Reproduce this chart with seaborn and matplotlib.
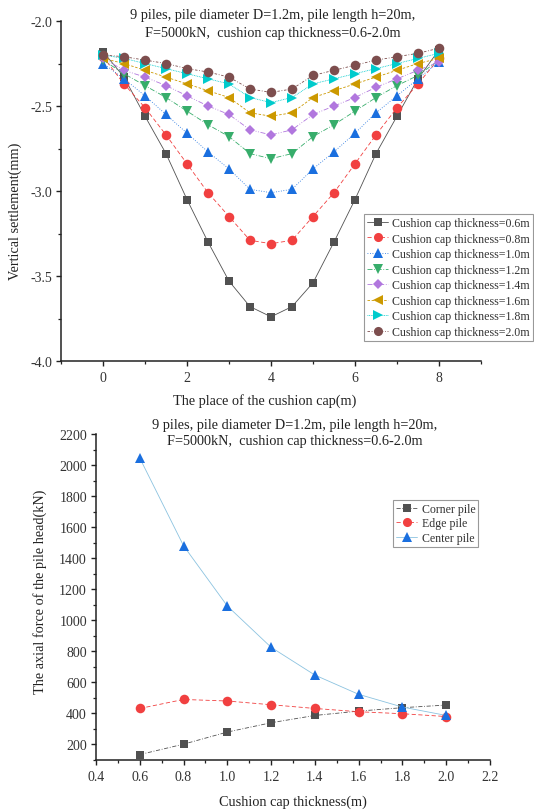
import numpy as np
import pandas as pd
import matplotlib
matplotlib.use("Agg")
import matplotlib.pyplot as plt
from matplotlib.ticker import MultipleLocator
import seaborn as sns

# ---- settlement profile along the cushion cap (mm) ----
positions = [0, 0.5, 1, 1.5, 2, 2.5, 3, 3.5, 4, 4.5, 5, 5.5, 6, 6.5, 7, 7.5, 8]
thickness_labels = ["0.6m", "0.8m", "1.0m", "1.2m", "1.4m", "1.6m", "1.8m", "2.0m"]
settle_06 = [-2.18, -2.33, -2.56, -2.78, -3.05, -3.30, -3.53, -3.68, -3.74, -3.68, -3.54, -3.30, -3.05, -2.78, -2.56, -2.34, -2.17]
settle_08 = [-2.21, -2.37, -2.51, -2.67, -2.84, -3.01, -3.15, -3.29, -3.31, -3.29, -3.15, -3.01, -2.84, -2.67, -2.51, -2.37, -2.22]
settle_10 = [-2.25, -2.34, -2.44, -2.55, -2.66, -2.77, -2.87, -2.99, -3.01, -2.99, -2.87, -2.77, -2.66, -2.54, -2.44, -2.34, -2.24]
settle_12 = [-2.23, -2.31, -2.38, -2.45, -2.53, -2.61, -2.68, -2.78, -2.81, -2.78, -2.68, -2.61, -2.53, -2.45, -2.38, -2.32, -2.23]
settle_14 = [-2.22, -2.29, -2.33, -2.38, -2.44, -2.50, -2.55, -2.64, -2.67, -2.64, -2.55, -2.50, -2.45, -2.39, -2.34, -2.29, -2.24]
settle_16 = [-2.22, -2.25, -2.29, -2.33, -2.37, -2.41, -2.45, -2.54, -2.56, -2.54, -2.45, -2.41, -2.37, -2.33, -2.29, -2.25, -2.22]
settle_18 = [-2.20, -2.22, -2.25, -2.28, -2.31, -2.34, -2.37, -2.45, -2.48, -2.45, -2.37, -2.34, -2.31, -2.28, -2.25, -2.22, -2.19]
settle_20 = [-2.20, -2.21, -2.23, -2.25, -2.28, -2.30, -2.33, -2.40, -2.42, -2.40, -2.32, -2.29, -2.26, -2.23, -2.21, -2.19, -2.16]
settlements = [settle_06, settle_08, settle_10, settle_12, settle_14, settle_16, settle_18, settle_20]

# ---- pile head axial force vs. cap thickness (kN) ----
cap_thickness = [0.6, 0.8, 1.0, 1.2, 1.4, 1.6, 1.8, 2.0]
corner_pile = [135, 202, 280, 340, 387, 415, 437, 454]
edge_pile = [432, 490, 480, 456, 432, 411, 398, 380]
center_pile = [2045, 1480, 1092, 826, 647, 523, 441, 387]

sns.set_style("ticks")
plt.rcParams["font.family"] = ["Liberation Serif", "DejaVu Serif"]
plt.rcParams["axes.unicode_minus"] = False
plt.rcParams["text.color"] = "#222222"

palette = ["#515151", "#F14040", "#1A6FDF", "#37AD6B", "#B177DE", "#CC9900", "#00CBCC", "#7D4E4E"]
markers = ["s", "o", "^", "v", "D", "<", ">", "o"]
msizes = [6.2, 6.9, 7.2, 7.2, 5.6, 7.2, 7.2, 6.9]
linestyles = ["-", (0, (5, 3)), (0, (1, 2)), (0, (6, 2, 1, 2)), (0, (6, 2, 1, 2, 1, 2)),
              (0, (3, 2)), (0, (1, 1)), (0, (3, 2, 1, 2))]

W, H = 534, 812
fig = plt.figure(figsize=(W / 100, H / 100), dpi=100)
TXT = 10.3
LEG = 8.6


def frac_box(left, top, right, bottom):
    return [left / W, 1 - bottom / H, (right - left) / W, (bottom - top) / H]


def style_axes(ax):
    for side in ("top", "right"):
        ax.spines[side].set_visible(False)
    for side in ("left", "bottom"):
        ax.spines[side].set_linewidth(1.1)
        ax.spines[side].set_color("#222222")
    ax.tick_params(which="major", direction="out", length=3.5, width=1.0,
                   color="#222222", labelsize=10, labelcolor="#333333", pad=3)
    ax.tick_params(which="minor", direction="out", length=2.2, width=0.9, color="#222222")


# ---------------- top panel: settlement ----------------
ax1 = fig.add_axes(frac_box(61, 22, 481, 362))
long1 = pd.DataFrame({
    "pos": np.tile(positions, len(settlements)),
    "settle": np.concatenate(settlements),
    "cap": np.repeat(thickness_labels, len(positions)),
})
for i, lab in enumerate(thickness_labels):
    sub = long1[long1["cap"] == lab]
    sns.lineplot(data=sub, x="pos", y="settle", ax=ax1, color=palette[i],
                 marker=markers[i], markersize=msizes[i], markeredgewidth=0,
                 markeredgecolor=palette[i], linewidth=0.6, linestyle=linestyles[i],
                 sort=False, errorbar=None, label=f"Cushion cap thickness={lab}",
                 zorder=3 + i)
ax1.set_xlim(-1, 9)
ax1.set_ylim(-4.0, -2.0)
ax1.xaxis.set_major_locator(MultipleLocator(2))
ax1.xaxis.set_minor_locator(MultipleLocator(1))
ax1.yaxis.set_major_locator(MultipleLocator(0.5))
ax1.yaxis.set_minor_locator(MultipleLocator(0.25))
ax1.yaxis.set_major_formatter(matplotlib.ticker.FormatStrFormatter("%.1f"))
ax1.set_xlabel("")
ax1.set_ylabel("")
style_axes(ax1)
ax1.tick_params(axis="x", which="major", pad=4)
h1, l1 = ax1.get_legend_handles_labels()
leg1 = ax1.legend(h1, l1, loc="upper left", bbox_to_anchor=(364 / W, 1 - 215 / H),
                  bbox_transform=fig.transFigure, borderaxespad=0, fontsize=LEG,
                  frameon=True, fancybox=False, framealpha=1, edgecolor="#999999",
                  labelspacing=0.3, handlelength=1.8, handletextpad=0.3,
                  borderpad=0.25, markerscale=0.95)
leg1.get_frame().set_linewidth(0.8)
for t in leg1.get_texts():
    t.set_color("#333333")

fig.text(273 / W, 1 - 15 / H, "9 piles, pile diameter D=1.2m, pile length h=20m,",
         ha="center", va="center", fontsize=TXT)
fig.text(273 / W, 1 - 33 / H, "F=5000kN,  cushion cap thickness=0.6-2.0m",
         ha="center", va="center", fontsize=TXT)
fig.text(265 / W, 1 - 401 / H, "The place of the cushion cap(m)",
         ha="center", va="center", fontsize=TXT)
fig.text(15 / W, 1 - 211 / H, "Vertical settlement(mm)", rotation=90,
         ha="center", va="center", fontsize=TXT)

# ---------------- bottom panel: axial force ----------------
ax2 = fig.add_axes(frac_box(96, 435, 490, 761))
long2 = pd.DataFrame({
    "thick": cap_thickness * 3,
    "force": corner_pile + edge_pile + center_pile,
    "pile": ["Corner pile"] * 8 + ["Edge pile"] * 8 + ["Center pile"] * 8,
})
pile_styles = {
    "Corner pile": dict(color="#515151", marker="s", markersize=6.2, linestyle=(0, (5, 2, 1, 2))),
    "Edge pile": dict(color="#F14040", marker="o", markersize=6.9, linestyle=(0, (5, 3))),
    "Center pile": dict(color="#1A6FDF", marker="^", markersize=7.3, linestyle="-"),
}
for name, st in pile_styles.items():
    sub = long2[long2["pile"] == name]
    sns.lineplot(data=sub, x="thick", y="force", ax=ax2, color=st["color"],
                 marker=st["marker"], markersize=st["markersize"], markeredgewidth=0,
                 markeredgecolor=st["color"], linewidth=0.6, linestyle=st["linestyle"],
                 sort=False, errorbar=None, label=name)
ax2.lines[2].set_color("#8CC3E0")
ax2.lines[2].set_markerfacecolor("#1A6FDF")
ax2.lines[2].set_markeredgecolor("#1A6FDF")
ax2.set_xlim(0.4, 2.2)
ax2.set_ylim(100, 2200)
ax2.xaxis.set_major_locator(MultipleLocator(0.2))
ax2.xaxis.set_minor_locator(MultipleLocator(0.1))
ax2.yaxis.set_major_locator(MultipleLocator(200))
ax2.yaxis.set_minor_locator(MultipleLocator(100))
ax2.xaxis.set_major_formatter(matplotlib.ticker.FormatStrFormatter("%.1f"))
ax2.set_xlabel("")
ax2.set_ylabel("")
style_axes(ax2)
ax2.tick_params(axis="x", which="major", pad=4)
h2, l2 = ax2.get_legend_handles_labels()
leg2 = ax2.legend(h2, l2, loc="upper left", bbox_to_anchor=(393 / W, 1 - 501 / H),
                  bbox_transform=fig.transFigure, borderaxespad=0, fontsize=LEG,
                  frameon=True, fancybox=False, framealpha=1, edgecolor="#999999",
                  labelspacing=0.2, handlelength=1.8, handletextpad=0.35,
                  borderpad=0.25, markerscale=0.95)
leg2.get_frame().set_linewidth(0.8)
for t in leg2.get_texts():
    t.set_color("#333333")

fig.text(295 / W, 1 - 425 / H, "9 piles, pile diameter D=1.2m, pile length h=20m,",
         ha="center", va="center", fontsize=TXT)
fig.text(295 / W, 1 - 442 / H, "F=5000kN,  cushion cap thickness=0.6-2.0m",
         ha="center", va="center", fontsize=TXT)
fig.text(293 / W, 1 - 802 / H, "Cushion cap thickness(m)",
         ha="center", va="center", fontsize=TXT)
fig.text(40 / W, 1 - 592 / H, "The axial force of the pile head(kN)", rotation=90,
         ha="center", va="center", fontsize=TXT)

fig.savefig("out.png", dpi=100)
